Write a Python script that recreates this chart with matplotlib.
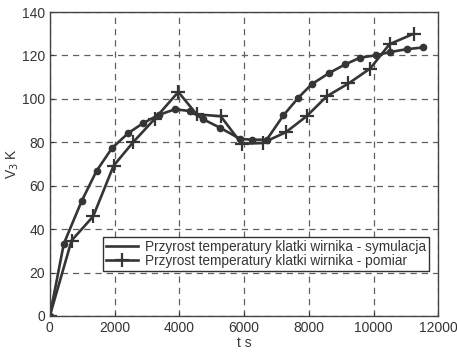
import matplotlib.pyplot as plt

plt.rcParams['font.family'] = ['Liberation Sans', 'DejaVu Sans']

# symulacja
t_sym = [0, 433, 980, 1443, 1920, 2420, 2880, 3360, 3866, 4340, 4742, 5258,
         5876, 6237, 6701, 7216, 7680, 8093, 8639, 9124, 9588, 10082, 10515,
         11031, 11526]
v_sym = [0, 33.3, 52.8, 66.8, 77.3, 84.2, 88.8, 92.6, 95.2, 94.4, 90.6, 86.7,
         81.6, 81.2, 81.2, 92.4, 100.6, 106.8, 112.0, 115.9, 119.0, 120.1,
         121.6, 122.9, 123.7]

# pomiar
t_pom = [0, 670, 1340, 1970, 2577, 3247, 3969, 4536, 5280, 5928, 6577, 7299,
         7938, 8557, 9226, 9897, 10494, 11237]
v_pom = [0, 34.7, 45.9, 69.2, 80.1, 90.9, 103.2, 92.9, 92.0, 79.3, 79.7, 84.7,
         92.1, 101.2, 107.1, 114.0, 125.2, 130.0]

labels = ['Przyrost temperatury klatki wirnika - symulacja',
          'Przyrost temperatury klatki wirnika - pomiar']

x_ticks = [0, 2000, 4000, 6000, 8000, 10000, 12000]
y_ticks = [0, 20, 40, 60, 80, 100, 120, 140]

ink = '#353535'

fig = plt.figure(figsize=(4.57, 3.55), dpi=100)
ax = fig.add_axes([0.109, 0.110, 0.850, 0.856])

ax.plot(t_sym, v_sym, '-', marker='o', color=ink, lw=1.9, ms=4.5,
        label=labels[0])
ax.plot(t_pom, v_pom, '-', marker='+', color=ink, lw=1.9, ms=10, mew=1.6,
        label=labels[1])

ax.set_xlim(0, 12000)
ax.set_ylim(0, 140)
ax.set_xticks(x_ticks)
ax.set_yticks(y_ticks)
ax.grid(True, color='#606060', ls=(0, (5, 4)), lw=0.9)
ax.tick_params(direction='in', labelsize=10, colors=ink, length=3)
for s in ax.spines.values():
    s.set_color('#444444')
    s.set_linewidth(1.0)

ax.set_xlabel('t s', fontsize=10, color=ink, labelpad=1)
ax.set_ylabel('V$_3$ K', fontsize=10, color=ink)
ax.yaxis.set_label_coords(-0.075, 0.5)

leg = ax.legend(loc='lower left', bbox_to_anchor=(0.137, 0.149),
                borderaxespad=0, fontsize=9.8, frameon=True, fancybox=False,
                edgecolor='#333333', handlelength=2.4, handletextpad=0.5,
                borderpad=0.2, labelspacing=0.0, framealpha=1)
leg.get_frame().set_linewidth(1.0)
# the simulation entry shows only its line in the key
leg.legend_handles[0].set_marker('')
for txt in leg.get_texts():
    txt.set_color(ink)

fig.savefig('out.png', dpi=100)
